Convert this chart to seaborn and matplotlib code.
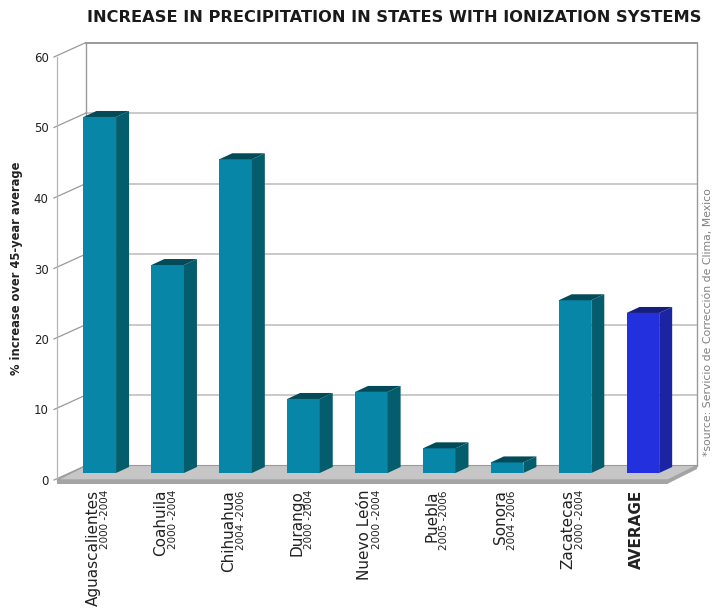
import numpy as np
import seaborn as sns
import matplotlib.pyplot as plt
from matplotlib.patches import Polygon
from matplotlib import rc

# data
states = ['Aguascalientes', 'Coahuila', 'Chihuahua', 'Durango', 'Nuevo León',
          'Puebla', 'Sonora', 'Zacatecas', 'AVERAGE']
periods = ['2000 -2004', '2000 -2004', '2004 -2006', '2000 -2004', '2000 -2004',
           '2005 -2006', '2004 -2006', '2000 -2004', '']
values = [50.5, 29.5, 44.5, 10.5, 11.5, 3.5, 1.5, 24.5, 22.7]
yticks = [0, 10, 20, 30, 40, 50, 60]

teal = ('#0886a7', '#045d6c', '#034b58')      # front, side, top
blue = ('#2330dd', '#1b25a3', '#151d80')
face = [blue if s == 'AVERAGE' else teal for s in states]

rc('font', **{'family': 'sans-serif', 'sans-serif': ['DejaVu Sans'], 'size': 9})

W, H = 715, 611
fig = plt.figure(figsize=(W / 100, H / 100), dpi=100)
ax = fig.add_axes([57 / W, 1 - 480 / H, 611 / W, 423 / H])

sns.barplot(x=states, y=values, hue=states, palette=[c[0] for c in face],
            legend=False, width=0.48, saturation=1, ax=ax, zorder=3)
bars = sorted(list(ax.patches), key=lambda p: p.get_x())
ax.set_xlim(-0.5, len(states) - 0.5)
ax.set_ylim(0, 60)

# pixel -> data unit conversions (fixed figure geometry)
px = len(states) / 611.0
py = 60 / 423.0
wall_dx, wall_dy = 29 * px, 14.5 * py      # back wall offset
bar_dx, bar_dy = 13 * px, 6 * py           # bar depth
shift_x, floor_y = 0.13, 7 * py            # bars sit at mid depth

x0, x1 = -0.5, len(states) - 0.5
line_c = '#9a9a9a'
grid_c = '#c9c9c9'

# floor slab
ax.add_patch(Polygon([(x0, 0), (x1, 0), (x1 + wall_dx, wall_dy), (x0 + wall_dx, wall_dy)],
                     closed=True, fc='#c6c6c6', ec=line_c, lw=0.8, clip_on=False, zorder=1))
ax.add_patch(Polygon([(x0, 0), (x1, 0), (x1, -3.5 * py), (x0, -3.5 * py)],
                     closed=True, fc='#a4a4a4', ec='none', clip_on=False, zorder=1))
ax.add_patch(Polygon([(x1, 0), (x1 + wall_dx, wall_dy), (x1 + wall_dx, wall_dy - 3.5 * py), (x1, -3.5 * py)],
                     closed=True, fc='#a4a4a4', ec='none', clip_on=False, zorder=1))

# back wall grid and left wall diagonals
for v in yticks[1:]:
    ax.plot([x0 + wall_dx, x1 + wall_dx], [v + wall_dy, v + wall_dy],
            color=grid_c if v < 60 else line_c, lw=1.4, clip_on=False, zorder=0)
for v in yticks:
    ax.plot([x0 - 3 * px, x0 + wall_dx], [v, v + wall_dy], color=line_c, lw=0.9,
            clip_on=False, zorder=0)
ax.plot([x0, x0], [0, 60], color='#b5b5b5', lw=0.9, clip_on=False, zorder=0)
ax.plot([x0 + wall_dx] * 2, [wall_dy, 60 + wall_dy], color=line_c, lw=1.0, clip_on=False, zorder=0)
ax.plot([x1 + wall_dx] * 2, [wall_dy, 60 + wall_dy], color=line_c, lw=1.0, clip_on=False, zorder=0)

# 3d faces for the bars
for bar, cols in zip(bars, face):
    bar.set_x(bar.get_x() + shift_x)
    bar.set_y(floor_y)
    bar.set_edgecolor('none')
    bx, bw, top = bar.get_x(), bar.get_width(), floor_y + bar.get_height()
    side = [(bx + bw, floor_y), (bx + bw + bar_dx, floor_y + bar_dy),
            (bx + bw + bar_dx, top + bar_dy), (bx + bw, top)]
    lid = [(bx, top), (bx + bw, top), (bx + bw + bar_dx, top + bar_dy), (bx + bar_dx, top + bar_dy)]
    ax.add_patch(Polygon(side, closed=True, fc=cols[1], ec='none', zorder=3, clip_on=False))
    ax.add_patch(Polygon(lid, closed=True, fc=cols[2], ec='none', zorder=3, clip_on=False))

# axes styling
for s in ax.spines.values():
    s.set_visible(False)
ax.set_yticks(yticks)
ax.set_yticklabels([str(v) for v in yticks], fontsize=8.5, color='#222222')
ax.tick_params(axis='y', length=0, pad=6)
ax.set_xticks(range(len(states)))
ax.set_xticklabels([''] * len(states))
ax.tick_params(axis='x', length=0)
ax.set_xlabel('')
ax.set_ylabel('% increase over 45-year average', fontsize=8.3, fontweight='bold',
              color='#222222', labelpad=8)

# two-line category labels
lab_y = -10 * py
for i, (name, per) in enumerate(zip(states, periods)):
    bold = name == 'AVERAGE'
    ax.text(i + 2 * px, lab_y, name, rotation=90, ha='center', va='top',
            fontsize=11, fontweight='bold' if bold else 'normal', color='#222222',
            clip_on=False)
    if per:
        ax.text(i + 14 * px, lab_y, per, rotation=90, ha='center', va='top',
                fontsize=7.5, color='#222222', clip_on=False)

fig.text(394 / W, 1 - 18 / H, 'INCREASE IN PRECIPITATION IN STATES WITH IONIZATION SYSTEMS',
         ha='center', va='center', fontsize=11.7, fontweight='bold', color='#1a1a1a')
fig.text(708 / W, 1 - 322 / H, '*source: Servicio de Corrección de Clima, Mexico',
         rotation=90, ha='center', va='center', fontsize=7.8, color='#808080')

fig.savefig('out.png', dpi=100, facecolor='white')
